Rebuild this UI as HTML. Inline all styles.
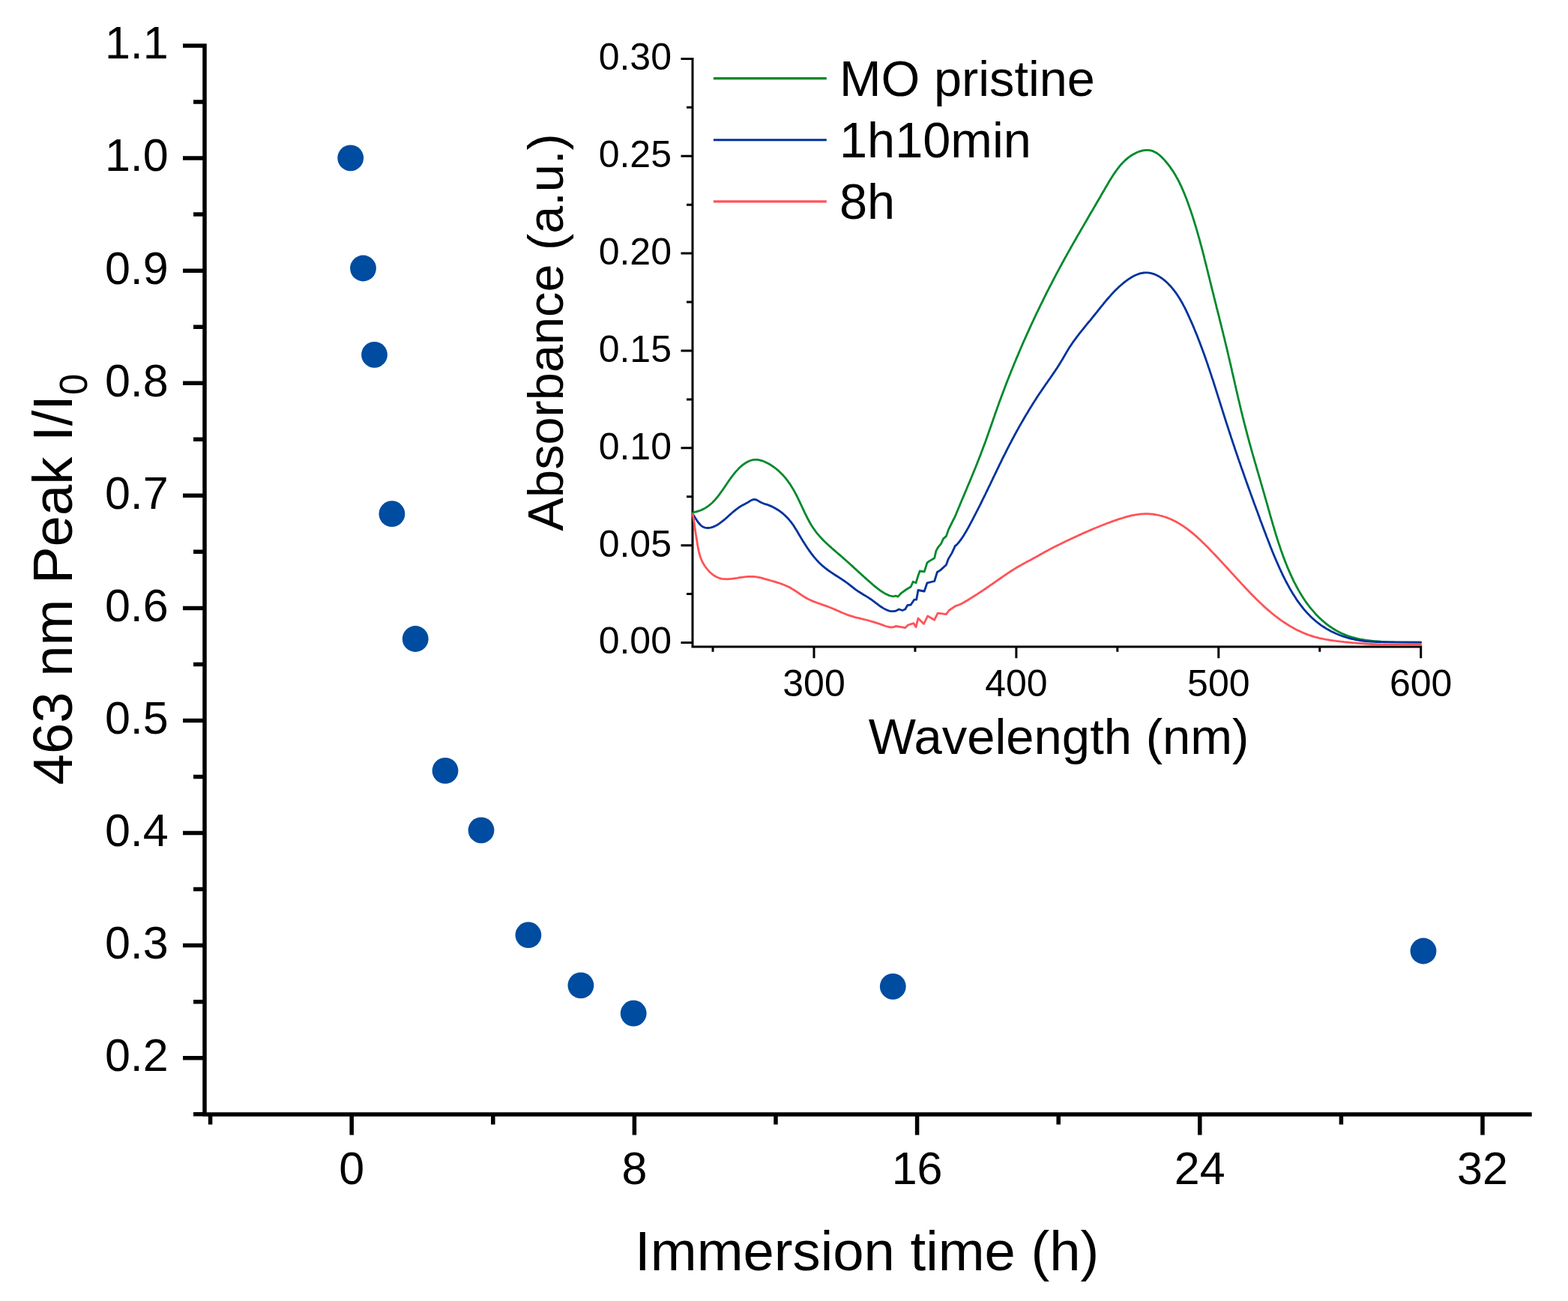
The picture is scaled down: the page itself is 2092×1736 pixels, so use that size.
<!DOCTYPE html>
<html><head><meta charset="utf-8"><title>Peak intensity vs immersion time</title>
<style>html,body{margin:0;padding:0;background:#fff;}body{width:2092px;height:1736px;overflow:hidden;}svg{display:block;}text{font-family:"Liberation Sans", Arial, sans-serif;fill:#000;}</style>
</head><body>
<svg width="2092" height="1736" viewBox="0 0 2092 1736">
<rect width="2092" height="1736" fill="#fff"/>
<path d="M273.00 58.25L273.00 1489.75M270.25 1487.00L2043.70 1487.00M244.00 61.00L273.00 61.00M244.00 211.08L273.00 211.08M244.00 361.16L273.00 361.16M244.00 511.23L273.00 511.23M244.00 661.31L273.00 661.31M244.00 811.39L273.00 811.39M244.00 961.47L273.00 961.47M244.00 1111.54L273.00 1111.54M244.00 1261.62L273.00 1261.62M244.00 1411.70L273.00 1411.70M258.00 136.04L273.00 136.04M258.00 286.12L273.00 286.12M258.00 436.19L273.00 436.19M258.00 586.27L273.00 586.27M258.00 736.35L273.00 736.35M258.00 886.43L273.00 886.43M258.00 1036.51L273.00 1036.51M258.00 1186.58L273.00 1186.58M258.00 1336.66L273.00 1336.66M258.00 1486.74L273.00 1486.74M469.20 1487.00L469.20 1514.60M846.40 1487.00L846.40 1514.60M1223.60 1487.00L1223.60 1514.60M1600.80 1487.00L1600.80 1514.60M1978.00 1487.00L1978.00 1514.60M280.60 1487.00L280.60 1500.60M657.80 1487.00L657.80 1500.60M1035.00 1487.00L1035.00 1500.60M1412.20 1487.00L1412.20 1500.60M1789.40 1487.00L1789.40 1500.60" stroke="#000" stroke-width="5.50" fill="none" stroke-linecap="butt"/>
<text x="224.7" y="78.3" font-size="61" text-anchor="end">1.1</text>
<text x="224.7" y="228.4" font-size="61" text-anchor="end">1.0</text>
<text x="224.7" y="378.5" font-size="61" text-anchor="end">0.9</text>
<text x="224.7" y="528.5" font-size="61" text-anchor="end">0.8</text>
<text x="224.7" y="678.6" font-size="61" text-anchor="end">0.7</text>
<text x="224.7" y="828.7" font-size="61" text-anchor="end">0.6</text>
<text x="224.7" y="978.8" font-size="61" text-anchor="end">0.5</text>
<text x="224.7" y="1128.8" font-size="61" text-anchor="end">0.4</text>
<text x="224.7" y="1278.9" font-size="61" text-anchor="end">0.3</text>
<text x="224.7" y="1429.0" font-size="61" text-anchor="end">0.2</text>
<text x="469.2" y="1579.8" font-size="61" text-anchor="middle">0</text>
<text x="846.4" y="1579.8" font-size="61" text-anchor="middle">8</text>
<text x="1223.6" y="1579.8" font-size="61" text-anchor="middle">16</text>
<text x="1600.8" y="1579.8" font-size="61" text-anchor="middle">24</text>
<text x="1978.0" y="1579.8" font-size="61" text-anchor="middle">32</text>
<text x="847.1" y="1694.5" font-size="74.3">Immersion time (h)</text>
<text transform="translate(95.7 1047.4) rotate(-90)" font-size="74.3">463 nm Peak I/I<tspan font-size="51" dy="19.8">0</tspan></text>
<circle cx="467.7" cy="210.8" r="17.4" fill="#004ca0"/>
<circle cx="484.5" cy="358.0" r="17.4" fill="#004ca0"/>
<circle cx="499.5" cy="473.3" r="17.4" fill="#004ca0"/>
<circle cx="522.9" cy="685.7" r="17.4" fill="#004ca0"/>
<circle cx="554.2" cy="852.5" r="17.4" fill="#004ca0"/>
<circle cx="594.0" cy="1028.4" r="17.4" fill="#004ca0"/>
<circle cx="642.0" cy="1107.8" r="17.4" fill="#004ca0"/>
<circle cx="704.9" cy="1247.7" r="17.4" fill="#004ca0"/>
<circle cx="774.9" cy="1314.9" r="17.4" fill="#004ca0"/>
<circle cx="845.2" cy="1352.2" r="17.4" fill="#004ca0"/>
<circle cx="1191.3" cy="1316.3" r="17.4" fill="#004ca0"/>
<circle cx="1899.0" cy="1269.0" r="17.4" fill="#004ca0"/>
<path d="M924.00 76.90L924.00 864.50M922.50 863.00L1897.20 863.00M908.50 857.50L924.00 857.50M908.50 727.65L924.00 727.65M908.50 597.80L924.00 597.80M908.50 467.95L924.00 467.95M908.50 338.10L924.00 338.10M908.50 208.25L924.00 208.25M908.50 78.40L924.00 78.40M916.00 792.58L924.00 792.58M916.00 662.72L924.00 662.72M916.00 532.88L924.00 532.88M916.00 403.02L924.00 403.02M916.00 273.17L924.00 273.17M916.00 143.32L924.00 143.32M1086.00 863.00L1086.00 878.30M1355.90 863.00L1355.90 878.30M1625.80 863.00L1625.80 878.30M1895.70 863.00L1895.70 878.30M951.05 863.00L951.05 869.80M1220.95 863.00L1220.95 869.80M1490.85 863.00L1490.85 869.80M1760.75 863.00L1760.75 869.80" stroke="#000" stroke-width="3.00" fill="none"/>
<text x="896" y="872.4" font-size="50" text-anchor="end">0.00</text>
<text x="896" y="742.5" font-size="50" text-anchor="end">0.05</text>
<text x="896" y="612.7" font-size="50" text-anchor="end">0.10</text>
<text x="896" y="482.8" font-size="50" text-anchor="end">0.15</text>
<text x="896" y="353.0" font-size="50" text-anchor="end">0.20</text>
<text x="896" y="223.2" font-size="50" text-anchor="end">0.25</text>
<text x="896" y="93.3" font-size="50" text-anchor="end">0.30</text>
<text x="1086.0" y="928.6" font-size="50" text-anchor="middle">300</text>
<text x="1355.9" y="928.6" font-size="50" text-anchor="middle">400</text>
<text x="1625.8" y="928.6" font-size="50" text-anchor="middle">500</text>
<text x="1895.7" y="928.6" font-size="50" text-anchor="middle">600</text>
<text x="1158.7" y="1005.5" font-size="67">Wavelength (nm)</text>
<text transform="translate(750.5 708.4) rotate(-90)" font-size="66.7">Absorbance (a.u.)</text>
<path d="M951.9 104.6H1102.8" stroke="#00892c" stroke-width="3.1" fill="none"/>
<path d="M951.9 186.8H1102.8" stroke="#00339c" stroke-width="3.1" fill="none"/>
<path d="M951.9 268.9H1102.8" stroke="#ff5357" stroke-width="3.1" fill="none"/>
<text x="1120" y="127.5" font-size="66.7">MO pristine</text>
<text x="1120" y="209.6" font-size="66.7">1h10min</text>
<text x="1120" y="291.7" font-size="66.7">8h</text>
<path d="M924.5 683.8 926.4 683.3 928.6 682.9 930.7 682.3 932.7 681.7 934.6 681.0 936.5 680.2 938.3 679.3 940.1 678.4 941.8 677.4 943.4 676.3 945.0 675.2 946.5 674.0 948.0 672.8 949.5 671.5 950.9 670.2 952.2 668.8 953.6 667.4 954.9 665.9 956.1 664.5 957.4 662.9 958.6 661.4 959.8 659.8 960.9 658.2 962.1 656.6 963.3 655.0 964.4 653.4 965.5 651.7 966.7 650.0 967.8 648.4 968.9 646.7 970.1 645.0 971.2 643.3 972.4 641.6 973.5 640.0 974.7 638.3 975.9 636.7 977.2 635.0 978.4 633.4 979.7 631.8 981.0 630.2 982.4 628.6 983.8 627.1 985.2 625.6 986.7 624.1 988.2 622.7 989.7 621.4 991.3 620.1 992.9 619.0 994.5 617.9 996.1 616.9 997.8 616.0 999.5 615.2 1001.3 614.5 1003.0 614.0 1004.8 613.6 1006.6 613.4 1008.5 613.3 1010.4 613.4 1012.2 613.7 1014.1 614.1 1016.1 614.6 1018.0 615.3 1019.9 616.0 1021.7 616.9 1023.6 617.8 1025.4 618.7 1027.2 619.8 1028.9 620.8 1030.6 622.0 1032.3 623.1 1033.9 624.3 1035.5 625.5 1037.1 626.8 1038.6 628.1 1040.1 629.5 1041.5 630.9 1042.9 632.3 1044.3 633.7 1045.6 635.2 1046.9 636.7 1048.2 638.2 1049.5 639.8 1050.7 641.4 1051.9 643.0 1053.0 644.6 1054.2 646.3 1055.3 648.0 1056.3 649.7 1057.4 651.4 1058.4 653.1 1059.4 654.9 1060.4 656.6 1061.3 658.4 1062.3 660.2 1063.2 662.0 1064.1 663.8 1065.0 665.6 1065.8 667.4 1066.7 669.2 1067.6 671.1 1068.4 672.9 1069.3 674.7 1070.1 676.5 1071.0 678.4 1071.8 680.2 1072.7 682.0 1073.5 683.8 1074.4 685.6 1075.3 687.4 1076.2 689.2 1077.1 691.0 1078.0 692.8 1079.0 694.5 1079.9 696.3 1080.9 698.0 1081.9 699.7 1082.9 701.4 1084.0 703.1 1085.1 704.7 1086.2 706.3 1087.3 707.9 1088.5 709.5 1089.7 711.1 1091.0 712.6 1092.3 714.1 1093.6 715.6 1094.9 717.1 1096.3 718.5 1097.6 720.0 1099.0 721.4 1100.4 722.8 1101.9 724.2 1103.3 725.5 1104.8 726.9 1106.3 728.3 1107.8 729.6 1109.3 730.9 1110.8 732.3 1112.3 733.6 1113.8 734.9 1115.3 736.2 1116.8 737.5 1118.3 738.8 1119.9 740.1 1121.4 741.4 1122.9 742.7 1124.4 744.1 1125.9 745.4 1127.4 746.7 1128.8 748.0 1130.3 749.3 1131.8 750.6 1133.3 752.0 1134.7 753.3 1136.2 754.6 1137.6 755.9 1139.1 757.3 1140.5 758.6 1142.0 759.9 1143.5 761.2 1144.9 762.6 1146.4 763.9 1147.8 765.2 1149.3 766.6 1150.8 767.9 1152.2 769.2 1153.7 770.6 1155.2 771.9 1156.7 773.2 1158.2 774.6 1159.7 775.9 1161.3 777.3 1162.8 778.6 1164.3 780.0 1165.9 781.3 1167.5 782.6 1169.1 783.9 1170.7 785.2 1172.3 786.4 1173.9 787.6 1175.5 788.7 1177.2 789.8 1178.9 790.9 1180.6 791.9 1182.3 792.8 1184.0 793.6 1185.8 794.4 1187.6 795.0 1189.4 795.4 1191.2 795.7 1193.0 795.8 1195.0 795.0 1198.0 796.1 1202.5 791.3 1210.0 786.0 1215.2 783.0 1218.2 776.3 1222.0 777.8 1225.0 768.0 1227.2 762.0 1233.2 762.8 1237.0 750.8 1240.0 748.6 1246.7 744.8 1248.9 735.1 1251.9 729.8 1255.7 725.3 1258.7 718.6 1262.4 715.6 1265.5 706.6 1272.3 692.9 1272.3 692.9 1273.4 691.1 1274.2 689.3 1274.9 687.5 1275.7 685.7 1276.4 683.8 1277.2 682.0 1278.0 680.2 1278.7 678.3 1279.5 676.5 1280.3 674.7 1281.0 672.8 1281.8 671.0 1282.6 669.1 1283.3 667.3 1284.1 665.5 1284.9 663.6 1285.7 661.8 1286.5 659.9 1287.2 658.1 1288.0 656.2 1288.8 654.4 1289.6 652.5 1290.3 650.7 1291.1 648.8 1291.9 647.0 1292.7 645.1 1293.5 643.3 1294.2 641.4 1295.0 639.6 1295.8 637.7 1296.5 635.8 1297.3 634.0 1298.1 632.1 1298.8 630.3 1299.6 628.4 1300.4 626.5 1301.1 624.7 1301.9 622.8 1302.6 620.9 1303.4 619.1 1304.1 617.2 1304.8 615.3 1305.6 613.5 1306.3 611.6 1307.0 609.7 1307.8 607.9 1308.5 606.0 1309.2 604.1 1309.9 602.3 1310.6 600.4 1311.3 598.5 1312.0 596.6 1312.7 594.8 1313.4 592.9 1314.1 591.0 1314.8 589.2 1315.4 587.3 1316.1 585.4 1316.8 583.5 1317.4 581.7 1318.1 579.8 1318.8 577.9 1319.4 576.0 1320.1 574.2 1320.8 572.3 1321.4 570.4 1322.1 568.5 1322.7 566.7 1323.4 564.8 1324.0 562.9 1324.7 561.0 1325.3 559.1 1326.0 557.3 1326.7 555.4 1327.3 553.5 1328.0 551.6 1328.6 549.8 1329.3 547.9 1330.0 546.0 1330.6 544.1 1331.3 542.3 1332.0 540.4 1332.6 538.5 1333.3 536.6 1334.0 534.8 1334.7 532.9 1335.4 531.0 1336.1 529.1 1336.8 527.3 1337.5 525.4 1338.2 523.5 1338.9 521.7 1339.6 519.8 1340.3 517.9 1341.0 516.0 1341.7 514.2 1342.4 512.3 1343.2 510.4 1343.9 508.6 1344.6 506.7 1345.4 504.8 1346.1 503.0 1346.8 501.1 1347.6 499.2 1348.3 497.4 1349.1 495.5 1349.8 493.6 1350.6 491.8 1351.3 489.9 1352.1 488.1 1352.8 486.2 1353.6 484.3 1354.4 482.5 1355.2 480.6 1355.9 478.8 1356.7 476.9 1357.5 475.1 1358.3 473.2 1359.1 471.4 1359.8 469.5 1360.6 467.7 1361.4 465.8 1362.2 464.0 1363.0 462.1 1363.8 460.3 1364.6 458.4 1365.4 456.6 1366.2 454.7 1367.1 452.9 1367.9 451.1 1368.7 449.2 1369.5 447.4 1370.3 445.6 1371.2 443.7 1372.0 441.9 1372.8 440.1 1373.7 438.2 1374.5 436.4 1375.3 434.6 1376.2 432.7 1377.0 430.9 1377.9 429.1 1378.7 427.3 1379.6 425.5 1380.4 423.6 1381.3 421.8 1382.1 420.0 1383.0 418.2 1383.9 416.4 1384.7 414.6 1385.6 412.8 1386.5 411.0 1387.4 409.2 1388.2 407.4 1389.1 405.6 1390.0 403.8 1390.9 402.0 1391.8 400.2 1392.6 398.4 1393.5 396.6 1394.4 394.8 1395.3 393.0 1396.2 391.2 1397.1 389.4 1398.0 387.6 1398.9 385.9 1399.8 384.1 1400.7 382.3 1401.7 380.5 1402.6 378.8 1403.5 377.0 1404.4 375.2 1405.3 373.5 1406.2 371.7 1407.2 369.9 1408.1 368.2 1409.0 366.4 1409.9 364.7 1410.9 362.9 1411.8 361.2 1412.7 359.4 1413.7 357.7 1414.6 355.9 1415.6 354.2 1416.5 352.5 1417.4 350.7 1418.4 349.0 1419.3 347.3 1420.3 345.5 1421.2 343.8 1422.2 342.1 1423.2 340.3 1424.1 338.6 1425.1 336.9 1426.0 335.2 1427.0 333.5 1428.0 331.7 1428.9 330.0 1429.9 328.3 1430.9 326.6 1431.8 324.9 1432.8 323.2 1433.8 321.5 1434.8 319.7 1435.8 318.0 1436.7 316.3 1437.7 314.6 1438.7 312.9 1439.7 311.2 1440.7 309.5 1441.7 307.7 1442.7 306.0 1443.7 304.3 1444.7 302.6 1445.7 300.9 1446.7 299.1 1447.7 297.4 1448.7 295.7 1449.7 294.0 1450.7 292.2 1451.7 290.5 1452.7 288.8 1453.7 287.0 1454.7 285.3 1455.7 283.5 1456.8 281.8 1457.8 280.1 1458.8 278.3 1459.8 276.6 1460.9 274.8 1461.9 273.0 1462.9 271.3 1463.9 269.5 1465.0 267.7 1466.0 266.0 1467.0 264.2 1468.1 262.4 1469.1 260.6 1470.1 258.8 1471.2 257.0 1472.2 255.2 1473.3 253.4 1474.3 251.6 1475.4 249.8 1476.4 248.0 1477.5 246.2 1478.5 244.4 1479.6 242.6 1480.7 240.8 1481.8 239.0 1482.9 237.3 1484.0 235.5 1485.1 233.8 1486.3 232.0 1487.4 230.3 1488.6 228.7 1489.8 227.0 1491.0 225.4 1492.2 223.8 1493.5 222.2 1494.7 220.7 1496.0 219.2 1497.4 217.8 1498.7 216.3 1500.1 215.0 1501.5 213.6 1502.9 212.4 1504.4 211.1 1505.9 209.9 1507.4 208.8 1509.0 207.7 1510.6 206.7 1512.2 205.8 1513.9 204.9 1515.6 204.0 1517.3 203.2 1519.1 202.5 1520.9 201.9 1522.8 201.4 1524.6 200.9 1526.5 200.6 1528.3 200.4 1530.2 200.3 1532.1 200.4 1533.9 200.6 1535.7 200.9 1537.4 201.4 1539.1 202.1 1540.8 202.9 1542.5 203.8 1544.1 204.8 1545.7 206.0 1547.2 207.2 1548.7 208.6 1550.2 210.0 1551.6 211.4 1553.0 212.9 1554.4 214.4 1555.7 216.0 1557.0 217.6 1558.3 219.2 1559.6 220.8 1560.8 222.4 1562.0 224.1 1563.1 225.7 1564.3 227.4 1565.4 229.1 1566.4 230.8 1567.5 232.6 1568.5 234.3 1569.5 236.1 1570.5 237.8 1571.5 239.6 1572.4 241.4 1573.3 243.2 1574.2 245.0 1575.1 246.9 1576.0 248.7 1576.8 250.6 1577.6 252.4 1578.4 254.3 1579.2 256.1 1580.0 258.0 1580.8 259.9 1581.5 261.8 1582.3 263.7 1583.0 265.6 1583.7 267.5 1584.4 269.3 1585.1 271.2 1585.8 273.2 1586.5 275.1 1587.1 277.0 1587.8 278.9 1588.5 280.8 1589.1 282.7 1589.7 284.6 1590.4 286.5 1591.0 288.4 1591.6 290.3 1592.2 292.2 1592.8 294.1 1593.4 296.0 1594.0 298.0 1594.6 299.9 1595.2 301.8 1595.8 303.7 1596.3 305.6 1596.9 307.5 1597.4 309.4 1598.0 311.4 1598.5 313.3 1599.1 315.2 1599.6 317.1 1600.2 319.0 1600.7 321.0 1601.2 322.9 1601.7 324.8 1602.2 326.7 1602.8 328.6 1603.3 330.6 1603.8 332.5 1604.3 334.4 1604.8 336.3 1605.3 338.3 1605.8 340.2 1606.3 342.1 1606.8 344.0 1607.2 346.0 1607.7 347.9 1608.2 349.8 1608.7 351.8 1609.2 353.7 1609.7 355.6 1610.1 357.5 1610.6 359.5 1611.1 361.4 1611.6 363.3 1612.0 365.3 1612.5 367.2 1613.0 369.1 1613.5 371.1 1614.0 373.0 1614.4 374.9 1614.9 376.9 1615.4 378.8 1615.9 380.8 1616.3 382.7 1616.8 384.6 1617.3 386.6 1617.8 388.5 1618.3 390.4 1618.8 392.4 1619.3 394.3 1619.7 396.3 1620.2 398.2 1620.7 400.1 1621.2 402.1 1621.7 404.0 1622.2 406.0 1622.7 407.9 1623.1 409.8 1623.6 411.8 1624.1 413.7 1624.6 415.7 1625.1 417.6 1625.6 419.6 1626.1 421.5 1626.6 423.4 1627.0 425.4 1627.5 427.3 1628.0 429.3 1628.5 431.2 1629.0 433.2 1629.5 435.1 1629.9 437.1 1630.4 439.0 1630.9 440.9 1631.4 442.9 1631.9 444.8 1632.3 446.8 1632.8 448.7 1633.3 450.7 1633.8 452.6 1634.2 454.6 1634.7 456.5 1635.2 458.5 1635.7 460.4 1636.1 462.4 1636.6 464.3 1637.1 466.2 1637.5 468.2 1638.0 470.1 1638.4 472.1 1638.9 474.0 1639.3 476.0 1639.8 477.9 1640.3 479.9 1640.7 481.8 1641.2 483.8 1641.6 485.7 1642.1 487.7 1642.5 489.6 1643.0 491.6 1643.4 493.5 1643.8 495.5 1644.3 497.4 1644.7 499.4 1645.2 501.3 1645.6 503.2 1646.1 505.2 1646.5 507.1 1647.0 509.1 1647.4 511.0 1647.8 513.0 1648.3 514.9 1648.7 516.9 1649.2 518.8 1649.6 520.8 1650.1 522.7 1650.5 524.7 1651.0 526.6 1651.4 528.6 1651.9 530.5 1652.3 532.5 1652.8 534.4 1653.3 536.3 1653.7 538.3 1654.2 540.2 1654.6 542.2 1655.1 544.1 1655.6 546.1 1656.0 548.0 1656.5 550.0 1657.0 551.9 1657.5 553.8 1657.9 555.8 1658.4 557.7 1658.9 559.7 1659.4 561.6 1659.9 563.6 1660.4 565.5 1660.9 567.4 1661.4 569.4 1661.9 571.3 1662.4 573.3 1662.9 575.2 1663.4 577.1 1663.9 579.1 1664.4 581.0 1664.9 583.0 1665.5 584.9 1666.0 586.8 1666.5 588.8 1667.0 590.7 1667.6 592.7 1668.1 594.6 1668.7 596.5 1669.2 598.5 1669.7 600.4 1670.3 602.3 1670.8 604.3 1671.4 606.2 1671.9 608.1 1672.5 610.1 1673.0 612.0 1673.6 613.9 1674.1 615.9 1674.7 617.8 1675.3 619.7 1675.8 621.7 1676.4 623.6 1676.9 625.5 1677.5 627.5 1678.1 629.4 1678.6 631.3 1679.2 633.2 1679.7 635.2 1680.3 637.1 1680.9 639.0 1681.4 640.9 1682.0 642.9 1682.5 644.8 1683.1 646.7 1683.7 648.6 1684.2 650.6 1684.8 652.5 1685.3 654.4 1685.9 656.3 1686.4 658.2 1687.0 660.2 1687.5 662.1 1688.1 664.0 1688.6 665.9 1689.2 667.8 1689.7 669.8 1690.3 671.7 1690.8 673.6 1691.3 675.5 1691.9 677.4 1692.4 679.3 1693.0 681.2 1693.5 683.1 1694.0 685.1 1694.6 687.0 1695.1 688.9 1695.7 690.8 1696.2 692.7 1696.8 694.6 1697.3 696.5 1697.9 698.4 1698.4 700.3 1699.0 702.2 1699.6 704.1 1700.1 706.0 1700.7 707.9 1701.3 709.8 1701.8 711.7 1702.4 713.6 1703.0 715.5 1703.6 717.4 1704.2 719.3 1704.8 721.2 1705.4 723.1 1706.0 725.0 1706.7 726.8 1707.3 728.7 1707.9 730.6 1708.6 732.5 1709.2 734.4 1709.9 736.3 1710.5 738.1 1711.2 740.0 1711.9 741.9 1712.6 743.8 1713.3 745.6 1714.0 747.5 1714.7 749.4 1715.5 751.3 1716.2 753.1 1717.0 755.0 1717.7 756.9 1718.5 758.7 1719.3 760.6 1720.1 762.4 1720.9 764.3 1721.7 766.2 1722.6 768.0 1723.4 769.8 1724.3 771.7 1725.1 773.5 1726.0 775.3 1726.9 777.1 1727.9 778.9 1728.8 780.7 1729.7 782.5 1730.7 784.3 1731.7 786.1 1732.7 787.9 1733.7 789.6 1734.7 791.3 1735.7 793.1 1736.8 794.8 1737.9 796.5 1739.0 798.2 1740.1 799.9 1741.2 801.5 1742.3 803.2 1743.5 804.8 1744.7 806.4 1745.9 808.0 1747.1 809.6 1748.3 811.2 1749.6 812.7 1750.9 814.2 1752.2 815.7 1753.5 817.2 1754.8 818.7 1756.2 820.2 1757.5 821.6 1758.9 823.0 1760.3 824.4 1761.8 825.7 1763.2 827.1 1764.7 828.4 1766.2 829.7 1767.7 830.9 1769.2 832.2 1770.8 833.4 1772.4 834.6 1773.9 835.7 1775.6 836.8 1777.2 837.9 1778.8 839.0 1780.5 840.0 1782.2 841.0 1783.9 842.0 1785.7 842.9 1787.4 843.8 1789.2 844.7 1791.0 845.5 1792.8 846.3 1794.6 847.1 1796.5 847.8 1798.4 848.5 1800.3 849.2 1802.2 849.8 1804.1 850.4 1806.1 850.9 1808.0 851.4 1810.0 851.9 1812.0 852.3 1814.0 852.8 1816.0 853.2 1818.0 853.5 1820.1 853.9 1822.1 854.2 1824.1 854.5 1826.2 854.7 1828.2 855.0 1830.3 855.2 1832.3 855.4 1834.4 855.6 1836.4 855.7 1838.4 855.9 1840.4 856.0 1842.4 856.2 1844.4 856.3 1846.4 856.4 1848.4 856.5 1850.4 856.6 1852.3 856.7 1854.2 856.8 1856.1 856.8 1858.0 856.9 1860.0 856.9 1895.7 857.1" stroke="#00892c" stroke-width="2.8" fill="none" stroke-linejoin="round" stroke-linecap="round"/>
<path d="M924.5 686.2 925.3 687.3 926.2 688.8 927.3 690.5 928.5 692.4 929.8 694.4 931.1 696.4 932.6 698.3 934.1 700.0 935.7 701.5 937.3 702.7 939.0 703.5 940.8 704.1 942.5 704.4 944.3 704.5 946.0 704.4 947.8 704.1 949.6 703.7 951.3 703.1 953.0 702.4 954.7 701.6 956.4 700.7 958.1 699.7 959.7 698.6 961.3 697.4 963.0 696.2 964.6 694.9 966.2 693.6 967.8 692.3 969.4 690.9 970.9 689.5 972.5 688.0 974.1 686.6 975.7 685.2 977.3 683.8 978.9 682.4 980.5 681.1 982.1 679.8 983.8 678.6 985.4 677.4 987.1 676.3 988.7 675.2 990.4 674.3 992.1 673.4 993.9 672.5 995.6 671.6 997.4 670.6 999.2 669.5 1000.9 668.4 1002.7 667.4 1004.5 666.7 1006.4 666.4 1008.2 666.6 1010.0 667.4 1011.8 668.4 1013.6 669.5 1015.5 670.5 1017.3 671.3 1019.1 672.0 1020.9 672.6 1022.7 673.1 1024.5 673.7 1026.3 674.4 1028.1 675.1 1029.9 675.9 1031.6 676.8 1033.4 677.7 1035.1 678.7 1036.8 679.7 1038.5 680.8 1040.2 681.9 1041.8 683.1 1043.4 684.4 1045.0 685.7 1046.5 687.0 1048.0 688.4 1049.4 689.8 1050.8 691.3 1052.2 692.7 1053.5 694.3 1054.8 695.8 1056.0 697.4 1057.1 699.0 1058.3 700.6 1059.4 702.3 1060.4 704.0 1061.5 705.6 1062.5 707.3 1063.6 709.1 1064.6 710.8 1065.6 712.5 1066.6 714.2 1067.7 716.0 1068.7 717.7 1069.8 719.4 1070.8 721.2 1071.9 722.9 1073.0 724.6 1074.1 726.4 1075.2 728.1 1076.3 729.8 1077.4 731.5 1078.6 733.1 1079.7 734.8 1080.9 736.4 1082.1 738.1 1083.3 739.7 1084.6 741.3 1085.8 742.8 1087.1 744.4 1088.4 745.9 1089.7 747.4 1091.1 748.8 1092.4 750.3 1093.8 751.7 1095.3 753.0 1096.7 754.4 1098.2 755.7 1099.7 756.9 1101.2 758.2 1102.8 759.4 1104.3 760.5 1105.9 761.7 1107.6 762.8 1109.2 763.9 1110.8 765.0 1112.5 766.1 1114.2 767.2 1115.8 768.2 1117.5 769.3 1119.2 770.4 1120.9 771.5 1122.6 772.6 1124.2 773.7 1125.9 774.8 1127.6 776.0 1129.2 777.2 1130.9 778.4 1132.5 779.6 1134.1 780.9 1135.7 782.1 1137.3 783.4 1138.9 784.6 1140.5 785.9 1142.1 787.1 1143.7 788.2 1145.3 789.3 1146.9 790.3 1148.5 791.3 1150.1 792.3 1151.6 793.2 1153.2 794.2 1154.9 795.1 1156.5 796.1 1158.1 797.1 1159.7 798.2 1161.3 799.2 1163.0 800.4 1164.6 801.6 1166.3 802.9 1167.9 804.1 1169.6 805.4 1171.3 806.7 1173.0 808.0 1174.7 809.2 1176.5 810.3 1178.2 811.4 1180.0 812.4 1181.8 813.3 1183.6 814.1 1185.4 814.8 1187.3 815.3 1189.2 815.6 1191.1 815.7 1193.0 815.7 1195.0 815.2 1199.5 813.0 1204.0 814.5 1207.7 813.0 1210.7 807.7 1215.2 807.0 1219.7 800.2 1222.7 800.2 1225.0 787.5 1233.2 789.0 1237.0 777.8 1246.7 775.5 1250.4 763.5 1254.9 760.6 1262.4 753.8 1265.4 745.6 1269.9 738.1 1274.4 728.3 1274.4 728.3 1276.1 727.3 1277.5 725.7 1278.9 724.1 1280.2 722.4 1281.4 720.8 1282.6 719.2 1283.7 717.6 1284.8 715.9 1285.9 714.3 1286.9 712.6 1287.9 710.9 1288.9 709.2 1289.9 707.6 1290.8 705.9 1291.8 704.2 1292.7 702.5 1293.6 700.8 1294.5 699.1 1295.5 697.3 1296.4 695.6 1297.3 693.9 1298.2 692.2 1299.1 690.4 1300.0 688.7 1300.9 686.9 1301.8 685.2 1302.7 683.4 1303.6 681.7 1304.5 679.9 1305.4 678.1 1306.3 676.3 1307.2 674.6 1308.1 672.8 1309.0 671.0 1309.9 669.2 1310.7 667.4 1311.6 665.6 1312.5 663.8 1313.4 662.0 1314.3 660.3 1315.1 658.5 1316.0 656.6 1316.9 654.8 1317.8 653.0 1318.6 651.2 1319.5 649.4 1320.4 647.6 1321.3 645.8 1322.1 644.0 1323.0 642.2 1323.9 640.4 1324.7 638.5 1325.6 636.7 1326.5 634.9 1327.3 633.1 1328.2 631.3 1329.1 629.5 1329.9 627.7 1330.8 625.9 1331.7 624.1 1332.6 622.2 1333.4 620.4 1334.3 618.6 1335.2 616.8 1336.1 615.0 1336.9 613.2 1337.8 611.4 1338.7 609.6 1339.6 607.8 1340.5 606.1 1341.4 604.3 1342.3 602.5 1343.2 600.7 1344.1 598.9 1345.0 597.1 1345.9 595.4 1346.8 593.6 1347.8 591.8 1348.7 590.1 1349.6 588.3 1350.5 586.5 1351.5 584.8 1352.4 583.0 1353.3 581.3 1354.3 579.5 1355.2 577.8 1356.2 576.0 1357.1 574.3 1358.1 572.6 1359.1 570.8 1360.0 569.1 1361.0 567.4 1362.0 565.6 1363.0 563.9 1364.0 562.2 1365.0 560.5 1366.0 558.7 1367.0 557.0 1368.0 555.3 1369.0 553.6 1370.0 551.9 1371.1 550.2 1372.1 548.5 1373.1 546.8 1374.2 545.1 1375.2 543.3 1376.3 541.7 1377.3 540.0 1378.4 538.3 1379.5 536.6 1380.5 534.9 1381.6 533.2 1382.7 531.5 1383.8 529.8 1384.9 528.1 1386.0 526.4 1387.1 524.8 1388.3 523.1 1389.4 521.4 1390.5 519.7 1391.7 518.1 1392.8 516.4 1394.0 514.7 1395.1 513.0 1396.3 511.4 1397.5 509.7 1398.6 508.0 1399.8 506.4 1401.0 504.7 1402.1 503.0 1403.3 501.4 1404.4 499.7 1405.5 498.1 1406.7 496.4 1407.8 494.8 1408.9 493.1 1410.0 491.5 1411.1 489.8 1412.1 488.1 1413.2 486.5 1414.2 484.8 1415.2 483.2 1416.2 481.6 1417.2 479.9 1418.2 478.3 1419.1 476.6 1420.1 475.0 1421.0 473.3 1422.0 471.7 1422.9 470.1 1423.9 468.4 1424.9 466.8 1425.9 465.1 1426.9 463.5 1428.0 461.9 1429.1 460.2 1430.2 458.6 1431.3 456.9 1432.5 455.3 1433.7 453.7 1434.9 452.1 1436.1 450.4 1437.3 448.8 1438.6 447.2 1439.8 445.5 1441.1 443.9 1442.4 442.3 1443.7 440.7 1445.0 439.1 1446.3 437.5 1447.6 435.9 1448.9 434.2 1450.2 432.6 1451.5 431.0 1452.8 429.5 1454.2 427.9 1455.5 426.3 1456.7 424.7 1458.0 423.1 1459.3 421.5 1460.6 420.0 1461.8 418.4 1463.1 416.8 1464.3 415.3 1465.6 413.7 1466.8 412.2 1468.0 410.6 1469.2 409.1 1470.5 407.6 1471.7 406.1 1472.9 404.5 1474.2 403.0 1475.4 401.5 1476.7 400.0 1478.0 398.5 1479.3 397.0 1480.6 395.6 1481.9 394.1 1483.2 392.6 1484.6 391.2 1485.9 389.7 1487.3 388.3 1488.8 386.8 1490.2 385.4 1491.7 384.0 1493.2 382.6 1494.7 381.2 1496.3 379.8 1497.9 378.5 1499.5 377.1 1501.1 375.8 1502.8 374.6 1504.5 373.4 1506.2 372.2 1507.9 371.1 1509.6 370.0 1511.4 369.0 1513.2 368.1 1514.9 367.3 1516.7 366.5 1518.5 365.8 1520.3 365.2 1522.1 364.7 1524.0 364.3 1525.8 364.0 1527.6 363.9 1529.4 363.8 1531.3 363.9 1533.1 364.1 1534.9 364.4 1536.7 364.8 1538.5 365.3 1540.3 365.9 1542.0 366.7 1543.8 367.5 1545.5 368.4 1547.2 369.4 1548.8 370.5 1550.5 371.6 1552.1 372.8 1553.7 374.1 1555.2 375.4 1556.7 376.8 1558.2 378.2 1559.7 379.7 1561.1 381.2 1562.5 382.7 1563.8 384.3 1565.1 385.9 1566.4 387.5 1567.6 389.1 1568.8 390.7 1570.0 392.4 1571.1 394.1 1572.2 395.8 1573.3 397.5 1574.4 399.2 1575.4 401.0 1576.4 402.7 1577.4 404.5 1578.4 406.3 1579.3 408.1 1580.3 409.9 1581.2 411.7 1582.1 413.5 1583.0 415.4 1583.8 417.2 1584.7 419.0 1585.5 420.9 1586.4 422.7 1587.2 424.5 1588.0 426.4 1588.9 428.2 1589.7 430.1 1590.5 431.9 1591.3 433.8 1592.1 435.6 1592.9 437.5 1593.6 439.3 1594.4 441.2 1595.2 443.1 1595.9 444.9 1596.7 446.8 1597.4 448.6 1598.1 450.5 1598.9 452.4 1599.6 454.2 1600.3 456.1 1601.0 458.0 1601.7 459.8 1602.4 461.7 1603.1 463.6 1603.8 465.4 1604.5 467.3 1605.2 469.2 1605.9 471.1 1606.6 472.9 1607.2 474.8 1607.9 476.7 1608.6 478.6 1609.2 480.4 1609.9 482.3 1610.5 484.2 1611.2 486.1 1611.8 488.0 1612.4 489.9 1613.1 491.7 1613.7 493.6 1614.3 495.5 1615.0 497.4 1615.6 499.3 1616.2 501.2 1616.8 503.1 1617.4 505.0 1618.1 506.8 1618.7 508.7 1619.3 510.6 1619.9 512.5 1620.5 514.4 1621.1 516.3 1621.7 518.2 1622.3 520.1 1622.9 522.0 1623.5 523.9 1624.1 525.8 1624.7 527.7 1625.3 529.6 1625.9 531.5 1626.5 533.4 1627.1 535.3 1627.7 537.2 1628.3 539.1 1628.9 541.0 1629.5 542.9 1630.1 544.8 1630.7 546.7 1631.3 548.6 1631.9 550.5 1632.5 552.4 1633.1 554.3 1633.7 556.2 1634.3 558.1 1634.9 560.0 1635.5 561.9 1636.1 563.8 1636.7 565.7 1637.3 567.6 1638.0 569.5 1638.6 571.4 1639.2 573.3 1639.8 575.2 1640.4 577.1 1641.1 579.0 1641.7 580.9 1642.3 582.8 1642.9 584.7 1643.6 586.6 1644.2 588.5 1644.8 590.4 1645.5 592.3 1646.1 594.3 1646.8 596.2 1647.4 598.1 1648.0 600.0 1648.7 601.9 1649.3 603.8 1650.0 605.7 1650.6 607.6 1651.3 609.5 1651.9 611.4 1652.6 613.3 1653.2 615.2 1653.9 617.1 1654.6 619.0 1655.2 620.9 1655.9 622.8 1656.5 624.7 1657.2 626.6 1657.9 628.4 1658.5 630.3 1659.2 632.2 1659.9 634.1 1660.5 636.0 1661.2 637.9 1661.9 639.8 1662.5 641.7 1663.2 643.6 1663.9 645.5 1664.6 647.4 1665.2 649.3 1665.9 651.2 1666.6 653.0 1667.3 654.9 1668.0 656.8 1668.6 658.7 1669.3 660.6 1670.0 662.5 1670.7 664.4 1671.4 666.2 1672.1 668.1 1672.7 670.0 1673.4 671.9 1674.1 673.8 1674.8 675.6 1675.5 677.5 1676.2 679.4 1676.9 681.3 1677.6 683.1 1678.3 685.0 1679.0 686.9 1679.7 688.8 1680.4 690.6 1681.0 692.5 1681.7 694.4 1682.4 696.2 1683.1 698.1 1683.8 700.0 1684.5 701.8 1685.2 703.7 1685.9 705.5 1686.6 707.4 1687.3 709.3 1688.0 711.1 1688.7 713.0 1689.4 714.8 1690.1 716.7 1690.9 718.5 1691.6 720.4 1692.3 722.2 1693.0 724.1 1693.7 725.9 1694.4 727.8 1695.1 729.6 1695.9 731.5 1696.6 733.3 1697.3 735.1 1698.1 737.0 1698.8 738.8 1699.6 740.6 1700.4 742.5 1701.1 744.3 1701.9 746.1 1702.7 748.0 1703.5 749.8 1704.3 751.6 1705.1 753.4 1705.9 755.3 1706.7 757.1 1707.5 758.9 1708.4 760.7 1709.2 762.5 1710.1 764.3 1710.9 766.2 1711.8 768.0 1712.7 769.8 1713.6 771.6 1714.5 773.4 1715.4 775.2 1716.4 777.0 1717.3 778.8 1718.3 780.6 1719.3 782.4 1720.2 784.1 1721.2 785.9 1722.3 787.7 1723.3 789.4 1724.3 791.2 1725.4 792.9 1726.5 794.6 1727.6 796.3 1728.7 798.0 1729.8 799.7 1730.9 801.4 1732.1 803.1 1733.3 804.7 1734.5 806.3 1735.7 807.9 1736.9 809.5 1738.2 811.1 1739.4 812.7 1740.7 814.2 1742.0 815.7 1743.4 817.2 1744.7 818.7 1746.1 820.1 1747.5 821.5 1748.9 822.9 1750.3 824.3 1751.8 825.6 1753.3 827.0 1754.8 828.2 1756.3 829.5 1757.8 830.7 1759.4 831.9 1761.0 833.1 1762.6 834.3 1764.2 835.4 1765.9 836.5 1767.5 837.5 1769.2 838.6 1770.9 839.6 1772.6 840.5 1774.4 841.5 1776.1 842.4 1777.9 843.3 1779.7 844.1 1781.5 845.0 1783.3 845.8 1785.1 846.5 1787.0 847.3 1788.8 848.0 1790.7 848.7 1792.6 849.3 1794.5 849.9 1796.4 850.5 1798.3 851.1 1800.2 851.6 1802.2 852.1 1804.1 852.6 1806.1 853.0 1808.0 853.5 1810.0 853.8 1812.0 854.2 1813.9 854.5 1815.9 854.8 1817.9 855.1 1819.9 855.3 1821.9 855.6 1823.9 855.8 1825.9 855.9 1827.9 856.1 1829.9 856.2 1832.0 856.3 1834.0 856.4 1836.0 856.5 1838.0 856.6 1840.0 856.6 1842.0 856.7 1844.1 856.7 1846.1 856.8 1848.1 856.8 1850.1 856.8 1852.1 856.8 1854.1 856.8 1856.1 856.8 1858.1 856.8 1860.0 856.9 1895.7 857.1" stroke="#00339c" stroke-width="2.8" fill="none" stroke-linejoin="round" stroke-linecap="round"/>
<path d="M924.5 685.9 924.6 687.9 924.9 689.9 925.2 691.8 925.5 693.8 925.8 695.8 926.1 697.7 926.4 699.7 926.7 701.7 927.0 703.7 927.3 705.7 927.6 707.6 927.9 709.6 928.2 711.6 928.5 713.6 928.8 715.6 929.1 717.6 929.4 719.6 929.8 721.5 930.1 723.5 930.4 725.5 930.7 727.5 931.1 729.4 931.4 731.4 931.8 733.3 932.2 735.3 932.7 737.2 933.2 739.1 933.7 741.0 934.3 742.9 935.0 744.8 935.8 746.7 936.6 748.6 937.5 750.4 938.5 752.3 939.6 754.1 940.8 755.8 942.0 757.5 943.2 759.1 944.6 760.7 945.9 762.2 947.4 763.7 948.9 765.0 950.4 766.3 952.0 767.5 953.6 768.5 955.3 769.5 957.0 770.3 958.7 771.0 960.5 771.6 962.2 772.1 964.0 772.4 965.9 772.6 967.7 772.7 969.6 772.8 971.5 772.7 973.4 772.6 975.3 772.4 977.3 772.2 979.2 772.0 981.2 771.7 983.2 771.4 985.2 771.0 987.2 770.7 989.2 770.4 991.2 770.1 993.3 769.8 995.3 769.6 997.3 769.4 999.4 769.3 1001.4 769.3 1003.5 769.3 1005.5 769.4 1007.6 769.6 1009.6 769.9 1011.6 770.3 1013.7 770.7 1015.7 771.2 1017.7 771.7 1019.7 772.3 1021.7 772.8 1023.7 773.4 1025.7 773.9 1027.6 774.5 1029.5 775.0 1031.5 775.6 1033.4 776.1 1035.3 776.7 1037.1 777.3 1039.0 777.8 1040.8 778.5 1042.6 779.1 1044.4 779.8 1046.1 780.5 1047.8 781.2 1049.6 782.0 1051.3 782.8 1053.0 783.6 1054.7 784.5 1056.3 785.5 1058.0 786.4 1059.7 787.5 1061.3 788.5 1063.0 789.7 1064.7 790.8 1066.4 792.0 1068.0 793.1 1069.7 794.3 1071.4 795.4 1073.2 796.5 1074.9 797.5 1076.6 798.5 1078.4 799.4 1080.2 800.3 1081.9 801.1 1083.7 801.9 1085.5 802.6 1087.4 803.3 1089.2 804.0 1091.0 804.7 1092.9 805.3 1094.7 806.0 1096.6 806.6 1098.4 807.3 1100.3 807.9 1102.2 808.6 1104.1 809.3 1105.9 810.0 1107.8 810.7 1109.7 811.5 1111.6 812.3 1113.4 813.1 1115.3 813.9 1117.2 814.7 1119.1 815.5 1121.0 816.4 1122.8 817.2 1124.7 818.0 1126.6 818.8 1128.5 819.5 1130.4 820.3 1132.2 820.9 1134.1 821.6 1136.0 822.2 1137.9 822.7 1139.8 823.3 1141.7 823.8 1143.6 824.3 1145.5 824.7 1147.3 825.2 1149.2 825.7 1151.1 826.1 1153.0 826.6 1154.9 827.0 1156.8 827.5 1158.7 828.0 1160.6 828.5 1162.5 829.1 1164.4 829.6 1166.3 830.2 1168.2 830.8 1170.1 831.4 1172.1 832.1 1174.0 832.7 1175.9 833.4 1177.8 834.1 1179.7 834.8 1181.6 835.5 1183.6 836.0 1185.5 836.5 1187.4 836.8 1189.3 837.0 1191.3 836.8 1193.2 836.5 1195.0 835.5 1207.7 837.7 1211.5 834.0 1219.0 831.7 1222.0 836.9 1225.0 825.0 1232.5 832.5 1237.7 822.0 1246.7 827.2 1251.2 818.2 1262.4 819.7 1266.2 814.5 1275.0 808.5 1275.0 808.5 1277.1 807.9 1278.8 807.3 1280.5 806.6 1282.3 805.8 1284.0 804.9 1285.7 804.0 1287.4 803.0 1289.1 802.0 1290.8 801.0 1292.5 800.0 1294.1 798.9 1295.8 797.9 1297.5 796.8 1299.2 795.8 1300.8 794.7 1302.5 793.6 1304.2 792.6 1305.8 791.5 1307.5 790.4 1309.2 789.3 1310.8 788.2 1312.5 787.1 1314.1 786.0 1315.8 784.8 1317.4 783.7 1319.1 782.6 1320.7 781.4 1322.4 780.3 1324.1 779.1 1325.7 778.0 1327.4 776.8 1329.0 775.7 1330.7 774.5 1332.3 773.3 1334.0 772.2 1335.7 771.0 1337.3 769.9 1339.0 768.7 1340.6 767.6 1342.3 766.5 1344.0 765.3 1345.6 764.2 1347.3 763.1 1349.0 762.0 1350.7 761.0 1352.3 759.9 1354.0 758.9 1355.7 757.8 1357.4 756.8 1359.1 755.8 1360.8 754.8 1362.5 753.9 1364.2 752.9 1365.9 752.0 1367.6 751.1 1369.3 750.1 1371.0 749.2 1372.7 748.3 1374.5 747.4 1376.2 746.5 1377.9 745.5 1379.7 744.6 1381.4 743.6 1383.1 742.7 1384.9 741.7 1386.6 740.7 1388.3 739.7 1390.1 738.8 1391.9 737.8 1393.6 736.8 1395.4 735.8 1397.1 734.9 1398.9 733.9 1400.7 733.0 1402.4 732.1 1404.2 731.1 1406.0 730.2 1407.7 729.3 1409.5 728.4 1411.3 727.5 1413.1 726.7 1414.9 725.8 1416.7 724.9 1418.4 724.0 1420.2 723.2 1422.0 722.3 1423.8 721.5 1425.6 720.6 1427.4 719.8 1429.2 718.9 1431.0 718.1 1432.8 717.2 1434.7 716.4 1436.5 715.6 1438.3 714.7 1440.1 713.9 1441.9 713.1 1443.7 712.2 1445.6 711.4 1447.4 710.6 1449.2 709.8 1451.1 709.0 1452.9 708.2 1454.8 707.4 1456.6 706.6 1458.5 705.8 1460.3 705.0 1462.2 704.3 1464.1 703.5 1466.0 702.7 1467.8 702.0 1469.7 701.2 1471.6 700.5 1473.5 699.7 1475.4 699.0 1477.3 698.3 1479.2 697.6 1481.2 696.8 1483.1 696.1 1485.0 695.4 1487.0 694.7 1488.9 694.1 1490.9 693.4 1492.9 692.7 1494.8 692.1 1496.8 691.5 1498.8 690.8 1500.7 690.3 1502.7 689.7 1504.7 689.2 1506.7 688.7 1508.7 688.2 1510.7 687.7 1512.7 687.3 1514.6 687.0 1516.6 686.6 1518.6 686.4 1520.6 686.1 1522.6 685.9 1524.6 685.8 1526.5 685.7 1528.5 685.6 1530.5 685.7 1532.4 685.7 1534.4 685.8 1536.3 686.0 1538.3 686.2 1540.2 686.5 1542.1 686.8 1544.0 687.1 1545.9 687.5 1547.8 688.0 1549.7 688.4 1551.6 689.0 1553.4 689.5 1555.3 690.2 1557.1 690.8 1558.9 691.5 1560.7 692.2 1562.5 693.0 1564.3 693.8 1566.1 694.7 1567.8 695.6 1569.5 696.5 1571.2 697.4 1572.9 698.4 1574.6 699.4 1576.3 700.5 1578.0 701.6 1579.6 702.7 1581.2 703.8 1582.9 705.0 1584.5 706.2 1586.1 707.4 1587.6 708.6 1589.2 709.9 1590.8 711.1 1592.3 712.4 1593.9 713.8 1595.4 715.1 1596.9 716.4 1598.4 717.8 1599.9 719.2 1601.4 720.6 1602.9 722.0 1604.3 723.4 1605.8 724.8 1607.3 726.2 1608.7 727.7 1610.1 729.1 1611.6 730.6 1613.0 732.0 1614.4 733.5 1615.8 735.0 1617.2 736.4 1618.6 737.9 1620.0 739.3 1621.4 740.8 1622.8 742.3 1624.2 743.8 1625.6 745.2 1626.9 746.7 1628.3 748.2 1629.7 749.6 1631.0 751.1 1632.4 752.6 1633.8 754.1 1635.1 755.5 1636.5 757.0 1637.8 758.5 1639.2 760.0 1640.5 761.4 1641.9 762.9 1643.2 764.4 1644.6 765.9 1645.9 767.3 1647.2 768.8 1648.6 770.3 1649.9 771.8 1651.3 773.2 1652.7 774.7 1654.0 776.2 1655.4 777.6 1656.7 779.1 1658.1 780.6 1659.5 782.0 1660.8 783.5 1662.2 785.0 1663.6 786.4 1665.0 787.9 1666.3 789.3 1667.7 790.8 1669.1 792.2 1670.5 793.7 1671.9 795.1 1673.3 796.5 1674.8 798.0 1676.2 799.4 1677.6 800.8 1679.1 802.2 1680.5 803.6 1681.9 805.0 1683.4 806.3 1684.9 807.7 1686.3 809.1 1687.8 810.4 1689.3 811.8 1690.8 813.1 1692.3 814.4 1693.9 815.7 1695.4 817.0 1696.9 818.3 1698.5 819.5 1700.0 820.8 1701.6 822.0 1703.2 823.2 1704.8 824.4 1706.4 825.6 1708.0 826.8 1709.6 828.0 1711.3 829.1 1712.9 830.2 1714.6 831.3 1716.3 832.4 1717.9 833.5 1719.6 834.5 1721.4 835.6 1723.1 836.6 1724.8 837.5 1726.6 838.5 1728.3 839.5 1730.1 840.4 1731.9 841.3 1733.7 842.1 1735.5 843.0 1737.3 843.8 1739.1 844.6 1741.0 845.3 1742.8 846.1 1744.7 846.8 1746.5 847.5 1748.4 848.1 1750.3 848.7 1752.2 849.3 1754.1 849.9 1756.0 850.4 1757.9 850.9 1759.8 851.4 1761.7 851.8 1763.7 852.2 1765.6 852.6 1767.6 853.0 1769.5 853.4 1771.5 853.7 1773.4 854.0 1775.4 854.3 1777.4 854.6 1779.4 854.9 1781.4 855.1 1783.3 855.4 1785.3 855.6 1787.3 855.9 1789.3 856.1 1791.4 856.3 1793.4 856.6 1795.4 856.8 1797.4 857.0 1799.4 857.2 1801.5 857.4 1803.5 857.6 1805.5 857.8 1807.5 857.9 1809.6 858.1 1811.6 858.3 1813.6 858.4 1815.7 858.6 1817.7 858.7 1819.8 858.9 1821.8 859.0 1823.8 859.1 1825.9 859.3 1827.9 859.4 1830.0 859.5 1832.0 859.6 1834.0 859.7 1836.1 859.8 1838.1 859.9 1840.1 859.9 1842.2 860.0 1844.2 860.1 1846.2 860.1 1848.3 860.2 1850.3 860.2 1852.3 860.3 1854.3 860.3 1856.3 860.4 1858.3 860.4 1860.4 860.4 1862.4 860.4 1864.4 860.4 1866.4 860.4 1868.3 860.4 1870.3 860.4 1872.3 860.4 1874.3 860.4 1876.2 860.3 1878.2 860.3 1880.2 860.3 1882.1 860.2 1884.1 860.2 1886.0 860.1 1887.9 860.1 1889.9 860.0 1891.8 859.9 1893.7 859.9 1895.7 859.8" stroke="#ff5357" stroke-width="2.8" fill="none" stroke-linejoin="round" stroke-linecap="round"/>
</svg>
</body></html>
